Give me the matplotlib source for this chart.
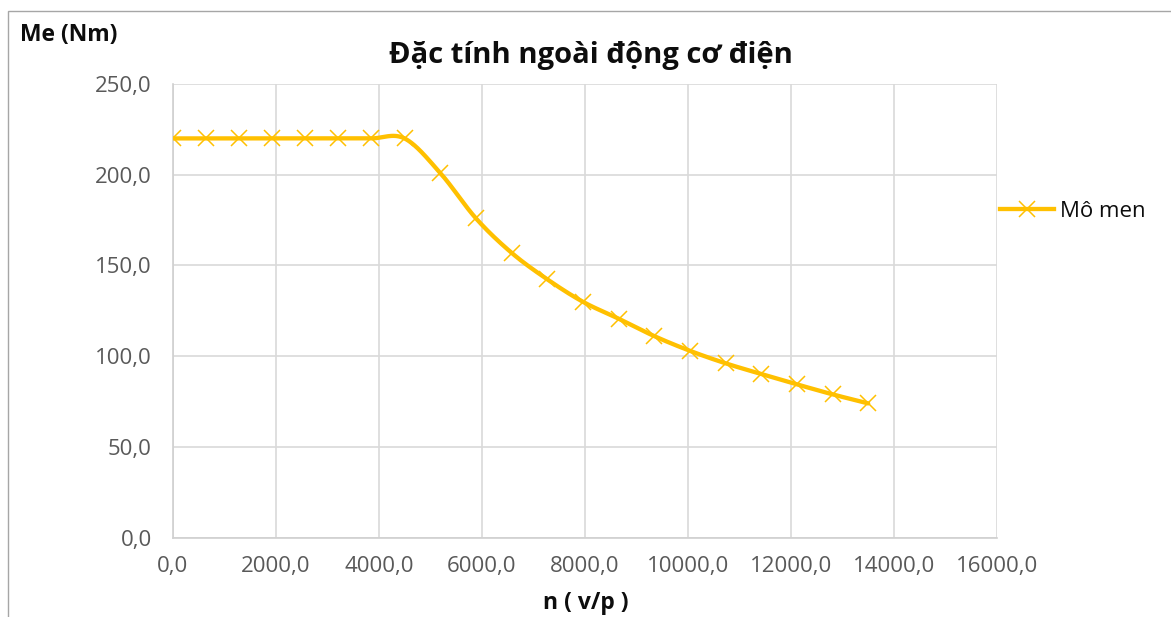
import numpy as np
import matplotlib
matplotlib.use("Agg")
import matplotlib.pyplot as plt
from matplotlib.ticker import FuncFormatter, MultipleLocator
from matplotlib.lines import Line2D
from matplotlib.patches import Rectangle

# Data
speed_rpm = [0, 643, 1286, 1929, 2571, 3214, 3857, 4500, 5192, 5885, 6577,
             7269, 7962, 8654, 9346, 10038, 10731, 11423, 12115, 12808, 13500]
torque_nm = [220, 220, 220, 220, 220, 220, 220, 220, 201, 176, 157,
             142.4, 130, 120.7, 111.1, 103, 96.1, 90.2, 84.5, 79, 74]
series_name = "Mô men"
title_text = "Đặc tính ngoài động cơ điện"
x_label = "n ( v/p )"
y_label = "Me (Nm)"

COLOR = "#FFC000"
FONT = ["Open Sans", "DejaVu Sans"]
plt.rcParams["font.family"] = FONT


def smooth_curve(xs, ys, n=40):
    """Excel-like smoothed line: Catmull-Rom Bezier segments."""
    xs = np.asarray(xs, float)
    ys = np.asarray(ys, float)
    pts = np.column_stack([xs, ys])
    out = []
    m = len(pts)
    for i in range(m - 1):
        p0 = pts[i - 1] if i > 0 else pts[i]
        p1 = pts[i]
        p2 = pts[i + 1]
        p3 = pts[i + 2] if i + 2 < m else pts[i + 1]
        b1 = p1 + (p2 - p0) / 6.0
        b2 = p2 - (p3 - p1) / 6.0
        t = np.linspace(0, 1, n, endpoint=(i == m - 2))[:, None]
        seg = ((1 - t) ** 3) * p1 + 3 * ((1 - t) ** 2) * t * b1 + 3 * (1 - t) * t ** 2 * b2 + t ** 3 * p2
        out.append(seg)
    out = np.vstack(out)
    return out[:, 0], out[:, 1]


fig = plt.figure(figsize=(11.71, 6.17), dpi=100)
ax = fig.add_axes([0.1475, 0.1285, 0.8514 - 0.1475, 0.8639 - 0.1285])

sx, sy = smooth_curve(speed_rpm, torque_nm)
ax.plot(sx, sy, color=COLOR, lw=3.1, solid_capstyle="round", zorder=3)
ax.plot(speed_rpm, torque_nm, linestyle="none", marker="x", markersize=12,
        markeredgewidth=1.1, color=COLOR, zorder=4)

ax.set_xlim(0, 16000)
ax.set_ylim(0, 250)
ax.xaxis.set_major_locator(MultipleLocator(2000))
ax.yaxis.set_major_locator(MultipleLocator(50))
fmt = FuncFormatter(lambda v, p: f"{v:.1f}".replace(".", ","))
ax.xaxis.set_major_formatter(fmt)
ax.yaxis.set_major_formatter(fmt)
ax.grid(True, color="#d9d9d9", lw=1.2)
ax.set_axisbelow(True)
for side in ["top", "right"]:
    ax.spines[side].set_visible(False)
for side in ["left", "bottom"]:
    ax.spines[side].set_color("#d0d0d0")
    ax.spines[side].set_linewidth(1.2)
ax.tick_params(length=0, labelsize=16, labelcolor="#595959")
ax.tick_params(axis="y", pad=15)
ax.tick_params(axis="x", pad=13)

fig.text(0.505, 0.91, title_text, ha="center", va="center", fontsize=21,
         fontweight="bold", color="#0d0d0d")
fig.text(0.017, 0.943, y_label, ha="left", va="center", fontsize=16.5,
         fontweight="bold", color="#0d0d0d")
fig.text(0.5, 0.022, x_label, ha="center", va="center", fontsize=16.5,
         fontweight="bold", color="#0d0d0d")

handle = Line2D([], [], color=COLOR, lw=3.1, marker="x", markersize=12,
                markeredgewidth=1.1)
leg = fig.legend([handle], [series_name], loc="center left",
                 bbox_to_anchor=(0.8365, 0.658), frameon=False, fontsize=16,
                 handlelength=2.45, handletextpad=0.25, labelcolor="#0d0d0d")

# chart-area border (cropped on the right and bottom)
fig.patches.append(Rectangle((8 / 1171, -0.2), 1.5, 1 - 11 / 617 + 0.2,
                             transform=fig.transFigure, fill=False,
                             edgecolor="#a6a6a6", lw=1.0))

fig.savefig("out.png", dpi=100)
